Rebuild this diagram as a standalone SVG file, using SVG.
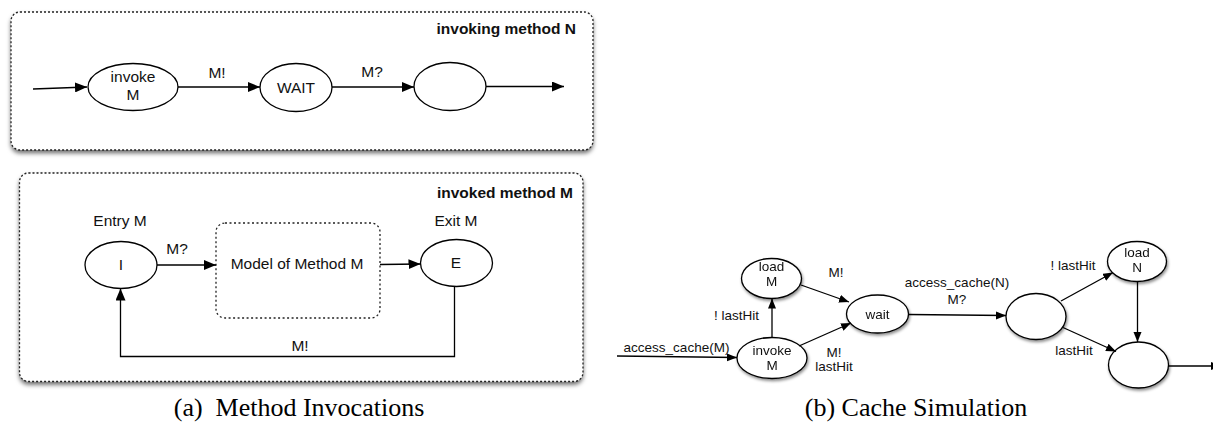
<svg xmlns="http://www.w3.org/2000/svg" width="1213" height="443" viewBox="0 0 1213 443">
<style>
.panel{fill:#fff;stroke:#222;stroke-width:1.3;stroke-dasharray:2 2}
.inner{fill:#fff;stroke:#222;stroke-width:1.3;stroke-dasharray:2 2.5}
.st{fill:#fff;stroke:#000;stroke-width:1.3}
.ln{fill:none;stroke:#000;stroke-width:1.3}
.t{font-family:"Liberation Sans",Arial,sans-serif;font-size:15.5px;fill:#111;text-anchor:middle}
.tb{font-family:"Liberation Sans",Arial,sans-serif;font-size:15.5px;font-weight:bold;fill:#111;text-anchor:end}
.s{font-family:"Liberation Sans",Arial,sans-serif;font-size:13.5px;fill:#111;text-anchor:middle}
.cap{font-family:"Liberation Serif","Times New Roman",serif;font-size:26px;fill:#000;text-anchor:middle}
</style>
<defs>
<filter id="sh" x="-5%" y="-10%" width="110%" height="125%">
<feDropShadow dx="0" dy="3" stdDeviation="2" flood-color="#000" flood-opacity="0.55"/>
</filter>
<filter id="esh" x="-20%" y="-20%" width="140%" height="150%">
<feDropShadow dx="1" dy="2" stdDeviation="1.5" flood-color="#000" flood-opacity="0.45"/>
</filter>
<marker id="ah" markerUnits="userSpaceOnUse" markerWidth="14" markerHeight="10" refX="12" refY="5" orient="auto">
<path d="M0,0 L12,5 L0,10 Z" fill="#000"/>
</marker>
<marker id="ahs" markerUnits="userSpaceOnUse" markerWidth="12" markerHeight="9" refX="10" refY="4" orient="auto">
<path d="M0,0 L10,4 L0,8 Z" fill="#000"/>
</marker>
</defs>

<g id="panel-invoking">
<rect class="panel" x="11" y="12" width="582" height="138" rx="9" filter="url(#sh)"/>
<text class="tb" x="576" y="34">invoking method N</text>
</g>
<g id="panel-invoked">
<rect class="panel" x="19.5" y="173" width="563.5" height="208.5" rx="9" filter="url(#sh)"/>
<text class="tb" x="573" y="198">invoked method M</text>
</g>

<g id="node-invokeM-a">
<ellipse class="st" cx="133" cy="87" rx="45" ry="23.5"/>
<text class="t" x="133" y="82">invoke</text>
<text class="t" x="133" y="100">M</text>
</g>
<g id="node-WAIT">
<ellipse class="st" cx="296" cy="87.5" rx="36" ry="24"/>
<text class="t" x="296" y="93">WAIT</text>
</g>
<g id="node-empty-a">
<ellipse class="st" cx="450" cy="86.5" rx="36" ry="24"/>
</g>

<g id="node-I">
<text class="t" x="120" y="226">Entry M</text>
<ellipse class="st" cx="121" cy="265" rx="36" ry="23.5"/>
<text class="t" x="121" y="270">I</text>
</g>
<g id="node-model">
<rect class="inner" x="216" y="223" width="164" height="95" rx="9"/>
<text class="t" x="297" y="269">Model of Method M</text>
</g>
<g id="node-E">
<text class="t" x="456" y="226">Exit M</text>
<ellipse class="st" cx="456.5" cy="263" rx="36" ry="23.5"/>
<text class="t" x="456" y="268">E</text>
</g>

<g id="node-loadM" filter="url(#esh)">
<ellipse class="st" cx="771.5" cy="278.5" rx="30" ry="20"/>
<text class="s" x="771.5" y="271">load</text>
<text class="s" x="771.5" y="286">M</text>
</g>
<g id="node-invokeM-b" filter="url(#esh)">
<ellipse class="st" cx="772" cy="358" rx="35" ry="20.5"/>
<text class="s" x="772" y="355">invoke</text>
<text class="s" x="772" y="370">M</text>
</g>
<g id="node-wait" filter="url(#esh)">
<ellipse class="st" cx="877.5" cy="314" rx="31" ry="19"/>
<text class="s" x="877.5" y="319">wait</text>
</g>
<g id="node-empty1-b" filter="url(#esh)">
<ellipse class="st" cx="1036" cy="316.5" rx="30" ry="23"/>
</g>
<g id="node-loadN" filter="url(#esh)">
<ellipse class="st" cx="1137" cy="261.5" rx="29.5" ry="20"/>
<text class="s" x="1137" y="257">load</text>
<text class="s" x="1137" y="272">N</text>
</g>
<g id="node-empty2-b" filter="url(#esh)">
<ellipse class="st" cx="1138.5" cy="365" rx="30" ry="23"/>
</g>

<g id="connectors">
<line class="ln" x1="33" y1="89" x2="87" y2="87" marker-end="url(#ah)"/>
<line class="ln" x1="178" y1="87" x2="260" y2="87" marker-end="url(#ah)"/>
<text class="t" x="217" y="78">M!</text>
<line class="ln" x1="332" y1="87" x2="414" y2="87" marker-end="url(#ah)"/>
<text class="t" x="372" y="77">M?</text>
<line class="ln" x1="486" y1="86.5" x2="564" y2="86.5" marker-end="url(#ah)"/>

<line class="ln" x1="157" y1="265" x2="216" y2="265" marker-end="url(#ah)"/>
<text class="t" x="177" y="254">M?</text>
<line class="ln" x1="380" y1="264.5" x2="420.5" y2="264" marker-end="url(#ah)"/>
<polyline class="ln" points="454.5,286 454.5,356.5 120.5,356.5 120.5,288.5" marker-end="url(#ah)"/>
<text class="t" x="300" y="351">M!</text>

<line class="ln" x1="617" y1="356" x2="737" y2="357.5" marker-end="url(#ahs)"/>
<text class="s" x="676.5" y="351.5">access_cache(M)</text>
<line class="ln" x1="772" y1="337.5" x2="772" y2="298.5" marker-end="url(#ahs)"/>
<text class="s" x="736.5" y="320">! lastHit</text>
<line class="ln" x1="801" y1="285" x2="849" y2="302" marker-end="url(#ahs)"/>
<text class="s" x="836" y="277">M!</text>
<line class="ln" x1="799" y1="346" x2="851" y2="323" marker-end="url(#ahs)"/>
<text class="s" x="834" y="357">M!</text>
<text class="s" x="834" y="371">lastHit</text>
<line class="ln" x1="908.5" y1="314.5" x2="1006" y2="315.5" marker-end="url(#ahs)"/>
<text class="s" x="957" y="287">access_cache(N)</text>
<text class="s" x="957" y="303.5">M?</text>
<line class="ln" x1="1061" y1="301" x2="1113" y2="272.5" marker-end="url(#ahs)"/>
<text class="s" x="1073" y="270">! lastHit</text>
<line class="ln" x1="1063" y1="327.5" x2="1116" y2="351.5" marker-end="url(#ahs)"/>
<text class="s" x="1074" y="355">lastHit</text>
<line class="ln" x1="1137.5" y1="281.5" x2="1137.5" y2="342" marker-end="url(#ahs)"/>
<line class="ln" x1="1168.5" y1="366" x2="1221" y2="366" marker-end="url(#ahs)"/>
</g>

<g id="captions">
<text class="cap" x="299" y="416" xml:space="preserve">(a)  Method Invocations</text>
<text class="cap" x="916" y="416">(b) Cache Simulation</text>
</g>
</svg>
